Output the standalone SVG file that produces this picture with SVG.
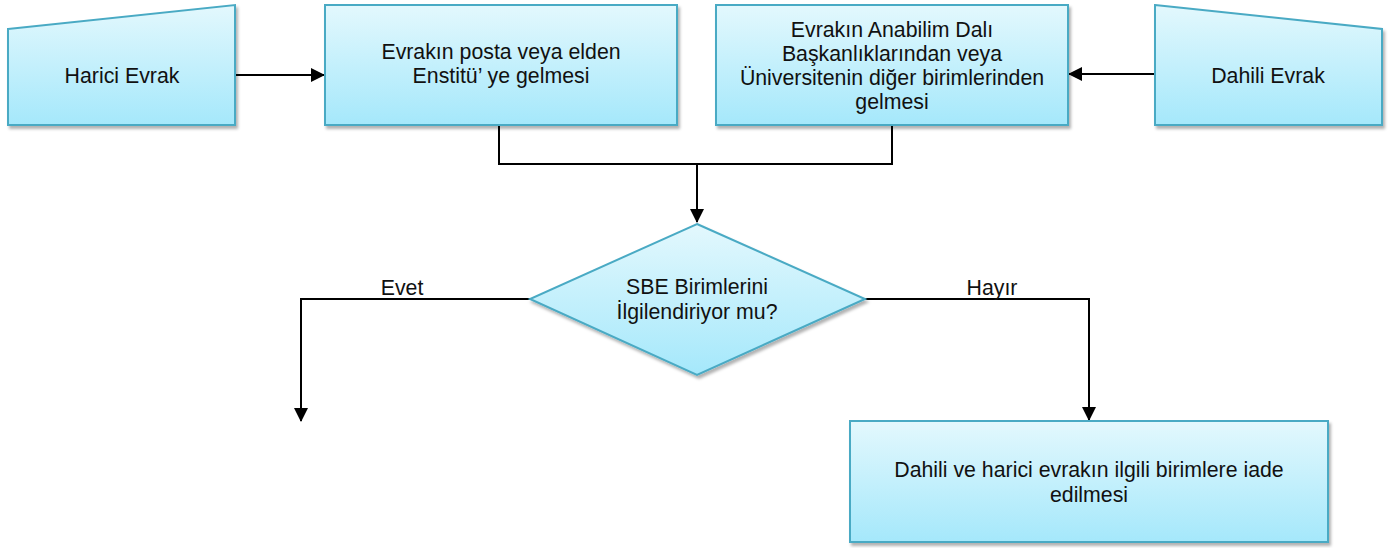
<svg xmlns="http://www.w3.org/2000/svg" width="1396" height="548" viewBox="0 0 1396 548">
<style>
.shape{fill:url(#g);stroke:#4aaac4;stroke-width:2;filter:url(#sh)}
.t{font-family:"Liberation Sans",Arial,sans-serif;font-size:21.3px;fill:#111;text-anchor:middle}
.c{fill:none;stroke:#000;stroke-width:2}
</style>
<defs>
<linearGradient id="g" x1="0" y1="0" x2="0" y2="1">
<stop offset="0" stop-color="#e3f8fd"/>
<stop offset="1" stop-color="#a5e8fb"/>
</linearGradient>
<filter id="sh" x="-10%" y="-10%" width="130%" height="130%">
<feDropShadow dx="2" dy="3" stdDeviation="1.5" flood-color="#000" flood-opacity="0.3"/>
</filter>
<marker id="ah" markerWidth="14" markerHeight="14" refX="13" refY="7" orient="auto" markerUnits="userSpaceOnUse">
<path d="M0,0 L14,7 L0,14 Z" fill="#000"/>
</marker>
</defs>
<g id="connectors">
<path class="c" d="M235,75 H324" marker-end="url(#ah)"/>
<path class="c" d="M1155,74 H1069" marker-end="url(#ah)"/>
<path class="c" d="M499,125 V164 H892 V125"/>
<path class="c" d="M697,164 V222" marker-end="url(#ah)"/>
<path class="c" d="M530,299 H301 V421" marker-end="url(#ah)"/>
<path class="c" d="M865,299 H1089 V420" marker-end="url(#ah)"/>
<text class="t" x="402" y="295">Evet</text>
<text class="t" x="992" y="295">Hayır</text>
</g>
<g id="harici">
<path class="shape" d="M8,29 L235,5 V125 H8 Z"/>
<text class="t" x="122" y="83">Harici Evrak</text>
</g>
<g id="posta">
<rect class="shape" x="325" y="5" width="352" height="120"/>
<text class="t" x="501" y="59">Evrakın posta veya elden</text>
<text class="t" x="501" y="83">Enstitü’ ye gelmesi</text>
</g>
<g id="anabilim">
<rect class="shape" x="716" y="5" width="352" height="120"/>
<text class="t" x="892" y="37">Evrakın Anabilim Dalı</text>
<text class="t" x="892" y="61">Başkanlıklarından veya</text>
<text class="t" x="892" y="85">Üniversitenin diğer birimlerinden</text>
<text class="t" x="892" y="109">gelmesi</text>
</g>
<g id="dahili">
<path class="shape" d="M1155,5 L1382,29 V125 H1155 Z"/>
<text class="t" x="1268" y="83">Dahili Evrak</text>
</g>
<g id="karar">
<path class="shape" d="M697,224 L865,299 L697,375 L530,299 Z"/>
<text class="t" x="697" y="294">SBE Birimlerini</text>
<text class="t" x="697" y="319">İlgilendiriyor mu?</text>
</g>
<g id="iade">
<rect class="shape" x="850" y="421" width="478" height="121"/>
<text class="t" x="1089" y="477">Dahili ve harici evrakın ilgili birimlere iade</text>
<text class="t" x="1089" y="502">edilmesi</text>
</g>
</svg>
